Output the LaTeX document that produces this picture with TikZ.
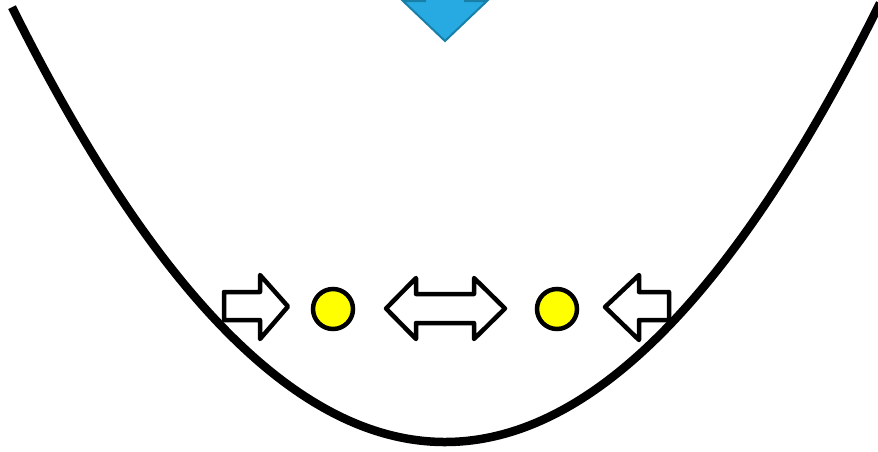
\documentclass[tikz,border=0pt]{standalone}
\definecolor{arrowblue}{RGB}{38,170,225}
\definecolor{arrowblueedge}{RGB}{24,128,168}
\definecolor{ballyellow}{RGB}{255,255,0}
\tikzset{
  outlinearrow/.style={draw=black,fill=white,line width=4.5pt,line join=round},
  ball/.style={circle,draw=black,fill=ballyellow,line width=4.5pt,minimum size=40pt,inner sep=0pt},
  well/.style={draw=black,line width=8.5pt}
}
\begin{document}
\begin{tikzpicture}[x=1pt,y=-1pt]
\useasboundingbox (0,0) rectangle (878,451);
% potential well
\draw[well] plot[domain=12:880,samples=140,smooth] (\x,{442-0.002315*(\x-445)*(\x-445)});
% blue down arrow (head only visible)
\draw[fill=arrowblue,draw=arrowblueedge,line width=2pt,line join=miter]
  (425,-10) -- (425,1) -- (403,1) -- (445,41) -- (487,1) -- (465,1) -- (465,-10);
% right-pointing arrow
\draw[outlinearrow] (224,292) -- (260,292) -- (260,275) -- (288,306.5) -- (260,339) -- (260,320) -- (224,320) -- cycle;
% left ball
\node[ball] (b1) at (333,309) {};
% double arrow
\draw[outlinearrow] (386,308.5) -- (416,278) -- (416,294) -- (474,294) -- (474,278) -- (505,308.5)
  -- (474,339) -- (474,323) -- (416,323) -- (416,339) -- cycle;
% right ball
\node[ball] (b2) at (557,309) {};
% left-pointing arrow
\draw[outlinearrow] (669,292) -- (639,292) -- (639,275) -- (605,307) -- (639,340) -- (639,320) -- (669,320) -- cycle;
\end{tikzpicture}
\end{document}
